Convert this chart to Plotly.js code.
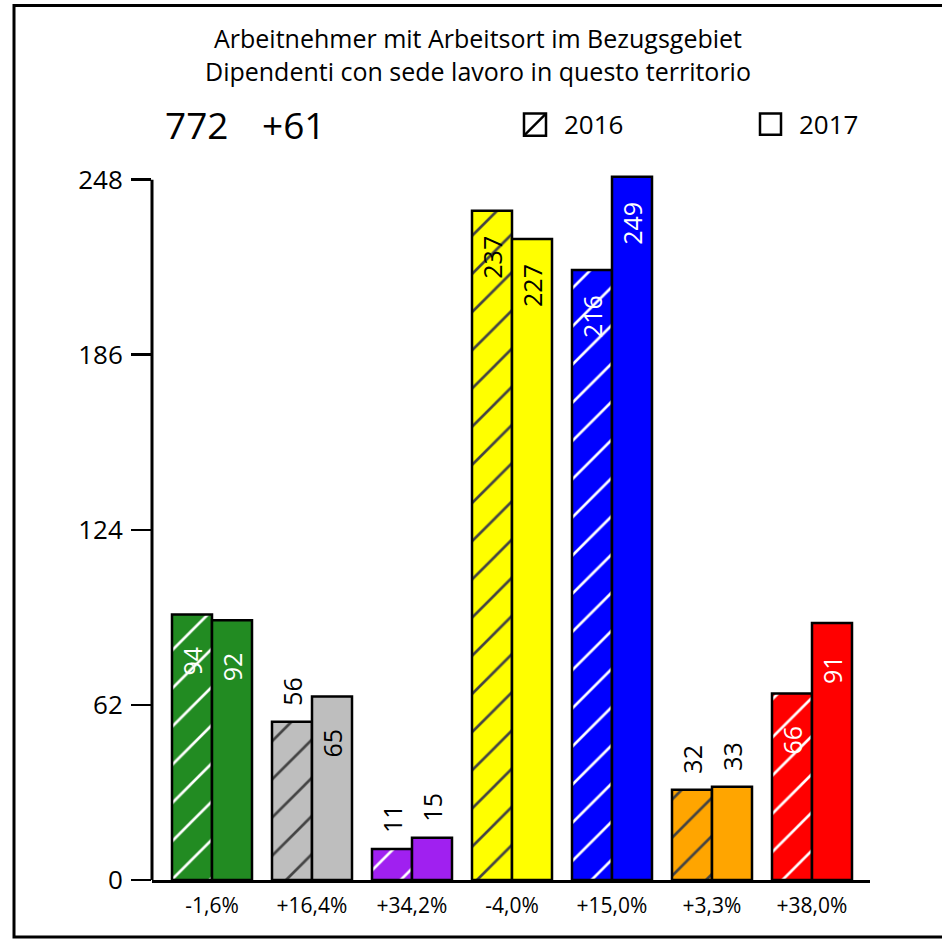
<!DOCTYPE html>
<html>
<head>
<meta charset="utf-8">
<script src="https://cdn.plot.ly/plotly-3.0.1.min.js"></script>
<style>
  html, body { margin: 0; padding: 0; background: #fff; }
  #chart { width: 942px; height: 942px; }
</style>
</head>
<body>
<div id="chart"></div>
<script>
// Employees by sector, change 2016 -> 2017
const categories = ['-1,6%', '+16,4%', '+34,2%', '-4,0%', '+15,0%', '+3,3%', '+38,0%'];
const values2016 = [94, 56, 11, 237, 216, 32, 66];
const values2017 = [92, 65, 15, 227, 249, 33, 91];
const yTicks = [0, 62, 124, 186, 248];
const seriesNames = ['2016', '2017'];
const totalValue = '772';
const totalChange = '+61';
const titleLines = ['Arbeitnehmer mit Arbeitsort im Bezugsgebiet', 'Dipendenti con sede lavoro in questo territorio'];

// Styling
const barColors = ['#228B22', '#BEBEBE', '#A020F0', '#FFFF00', '#0000FF', '#FFA500', '#FF0000'];
const inkColors = ['#FFFFFF', '#000000', '#FFFFFF', '#000000', '#FFFFFF', '#000000', '#FFFFFF'];
const FONT = 'Open Sans, Noto Sans, sans-serif';

// Page geometry (pixels)
const W = 942, H = 942;
const PL = 152, PR = 870, PT = 174.35, PB = 880;
const px = x => (x - PL) / (PR - PL);
const py = y => (PB - y) / (PB - PT);

const barLine = { color: '#000', width: 2.5 };

const trace2016 = {
  type: 'bar', name: seriesNames[0], x: categories, y: values2016,
  marker: {
    color: barColors, line: barLine,
    pattern: { shape: '/', fillmode: 'overlay', fgcolor: inkColors, fgopacity: 1, size: 27, solidity: 0.1 }
  },
  hoverinfo: 'skip', showlegend: false
};
const trace2017 = {
  type: 'bar', name: seriesNames[1], x: categories, y: values2017,
  marker: { color: barColors, line: barLine },
  hoverinfo: 'skip', showlegend: false
};

// Rotated value labels: inside the bar when tall enough, above it otherwise
const annotations = [];
[[values2016, -20], [values2017, 20]].forEach(([vals, dx]) => {
  vals.forEach((v, i) => {
    const inside = v >= 60;
    annotations.push({
      x: categories[i], y: v, xref: 'x', yref: 'y',
      xshift: dx, yshift: inside ? -47 : 30,
      text: String(v), textangle: -90, showarrow: false,
      xanchor: 'center', yanchor: 'middle',
      font: { family: FONT, size: 25, color: inside ? inkColors[i] : '#000' }
    });
  });
});

// Two-line heading
annotations.push({
  xref: 'paper', yref: 'paper', x: px(478), y: py(55),
  xanchor: 'center', yanchor: 'middle', align: 'center',
  text: titleLines.join('<br>'), showarrow: false,
  font: { family: FONT, size: 25, color: '#000' }
});

// Header figures and legend text
const headerFont = { family: FONT, size: 37, color: '#000' };
const legendFont = { family: FONT, size: 26, color: '#000' };
annotations.push(
  { xref: 'paper', yref: 'paper', x: px(163), y: py(125), xanchor: 'left', yanchor: 'middle',
    text: totalValue, showarrow: false, font: headerFont },
  { xref: 'paper', yref: 'paper', x: px(260), y: py(125), xanchor: 'left', yanchor: 'middle',
    text: totalChange, showarrow: false, font: headerFont },
  { xref: 'paper', yref: 'paper', x: px(562), y: py(124), xanchor: 'left', yanchor: 'middle',
    text: seriesNames[0], showarrow: false, font: legendFont },
  { xref: 'paper', yref: 'paper', x: px(797), y: py(124), xanchor: 'left', yanchor: 'middle',
    text: seriesNames[1], showarrow: false, font: legendFont }
);

const shapes = [
  // outer frame
  { type: 'rect', xref: 'paper', yref: 'paper', x0: px(14), x1: px(960), y0: py(937), y1: py(6),
    line: { color: '#000', width: 3 }, fillcolor: 'rgba(0,0,0,0)' },
  // y axis line up to the top tick
  { type: 'line', xref: 'paper', yref: 'y', x0: 0, x1: 0, y0: 0, y1: yTicks[yTicks.length - 1],
    line: { color: '#000', width: 3 } },
  // legend swatch: hatched (2016)
  { type: 'rect', xref: 'paper', yref: 'paper', x0: px(524), x1: px(546), y0: py(136), y1: py(114),
    line: { color: '#000', width: 2.5 }, fillcolor: '#fff' },
  { type: 'line', xref: 'paper', yref: 'paper', x0: px(524), x1: px(546), y0: py(136), y1: py(114),
    line: { color: '#000', width: 2.5 } },
  // legend swatch: plain (2017)
  { type: 'rect', xref: 'paper', yref: 'paper', x0: px(760), x1: px(781), y0: py(135), y1: py(114),
    line: { color: '#000', width: 2.5 }, fillcolor: '#fff' }
];

const layout = {
  width: W, height: H,
  margin: { l: PL, r: W - PR, t: PT, b: H - PB, pad: 0 },
  paper_bgcolor: '#fff', plot_bgcolor: '#fff',
  font: { family: FONT, color: '#000' },
  barmode: 'group', bargap: 0.2, bargroupgap: 0,
  xaxis: {
    type: 'category', range: [-0.6, 6.58],
    showline: true, linecolor: '#000', linewidth: 3,
    ticks: '', showgrid: false, zeroline: false,
    tickfont: { family: FONT, size: 21, color: '#000' },
    ticklabelstandoff: 5, fixedrange: true
  },
  yaxis: {
    range: [0, 250], tickvals: yTicks, ticktext: yTicks.map(String),
    ticks: 'outside', ticklen: 20, tickwidth: 2.5, tickcolor: '#000',
    showline: false, showgrid: false, zeroline: false,
    tickfont: { family: FONT, size: 26, color: '#000' },
    ticklabelstandoff: 3, fixedrange: true
  },
  annotations: annotations,
  shapes: shapes,
  showlegend: false
};

Plotly.newPlot('chart', [trace2016, trace2017], layout, { displayModeBar: false, staticPlot: true });
</script>
</body>
</html>
